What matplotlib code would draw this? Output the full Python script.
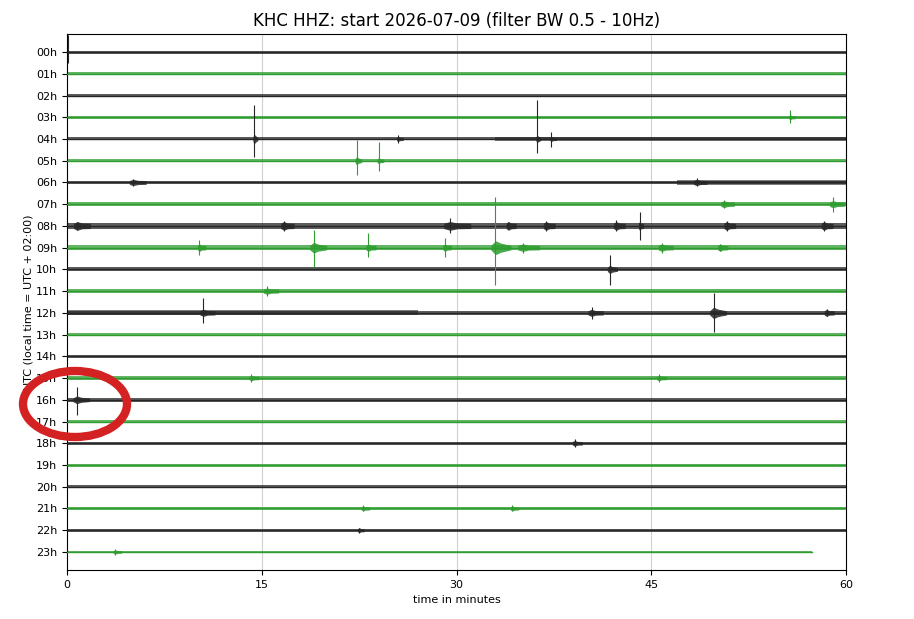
import matplotlib
matplotlib.use("Agg")
import matplotlib.pyplot as plt
from matplotlib.patches import Ellipse
import numpy as np

# ---------------- data ----------------
hour_labels = ["%02dh" % h for h in range(24)]
trace_colors = ["#262626", "#2e9c2e"]          # alternating black / green
trace_end_min = [60.0] * 23 + [57.4]            # last trace ends early

# background noise half-width per hour (amplitude, in reference pixels)
noise_amp = [1.5, 1.3, 1.5, 1.5, 1.5, 1.7, 1.9, 2.1, 2.6, 2.2, 1.9, 1.9,
             2.1, 1.7, 1.7, 1.6, 1.7, 1.6, 1.7, 1.5, 1.6, 1.5, 1.5, 1.3]

# louder noise segments: hour, start min, end min, half-width
loud_hour = [4, 6, 12]
loud_start = [33.0, 47.0, 0.0]
loud_end = [60.0, 60.0, 27.0]
loud_amp = [2.2, 2.3, 2.5]

# events: hour, minute, upward extent, downward extent, coda duration (min)
ev_hour = [0, 4, 4, 5, 5, 6, 8, 8, 8, 8, 8, 8, 8, 8, 8,
           9, 9, 9, 9, 9, 9, 9, 9, 10, 11, 12, 12, 12, 12,
           3, 4, 4, 6, 7, 7, 15, 15, 16, 18, 21, 21, 22, 23]
ev_min = [0.05, 14.4, 25.5, 22.3, 24.0, 5.1, 0.8, 16.7, 29.5, 34.0, 36.9, 42.3, 44.1, 50.8, 58.3,
          10.2, 19.0, 23.2, 29.1, 33.0, 35.1, 45.8, 50.3, 41.8, 15.4, 10.5, 40.4, 49.8, 58.5,
          55.7, 36.2, 37.3, 48.5, 50.6, 59.0, 14.2, 45.6, 0.75, 39.1, 22.8, 34.3, 22.5, 3.7]
ev_up = [17, 34, 4, 21, 19, 3.5, 4, 5, 8, 3.5, 5, 6, 14, 5, 5,
         8, 18, 15, 10, 51, 5, 5, 3.5, 14, 5, 15, 6, 20, 3.5,
         7, 39, 7, 4, 4, 7, 4, 4, 13, 4, 3, 3, 2.5, 3]
ev_down = [11, 18, 4, 14, 10, 3.5, 4, 5, 7, 3.5, 5, 5, 14, 5, 5,
           7, 19, 9, 9, 37, 5, 5, 3.5, 16, 5, 10, 6, 19, 3.5,
           6, 14, 8, 4, 4, 8, 4, 4, 15, 4, 3, 3, 2.5, 3]
ev_dur = [0.0, 0.3, 0.4, 0.4, 0.4, 1.0, 1.0, 0.8, 1.6, 0.6, 0.7, 0.7, 0.3, 0.7, 0.7,
          0.5, 1.0, 0.6, 0.5, 1.2, 1.3, 0.9, 0.6, 0.6, 0.9, 0.9, 0.9, 1.0, 0.6,
          0.4, 0.3, 0.4, 0.8, 0.8, 0.9, 0.6, 0.6, 1.0, 0.6, 0.5, 0.5, 0.4, 0.5]

AMP_SCALE = 21.74   # amplitude units per trace spacing

# ---------------- figure ----------------
fig = plt.figure(figsize=(9.14, 6.19), dpi=100)
ax = fig.add_axes([67 / 914, 1 - 570 / 619, (846 - 67) / 914, (570 - 34) / 619])

for xv in [15, 30, 45]:
    ax.axvline(xv, color="#d0d0d0", lw=0.8, zorder=0)

for h in range(24):
    col = trace_colors[h % 2]
    a = noise_amp[h] / AMP_SCALE
    x = np.array([0.0, trace_end_min[h]])
    ax.fill_between(x, h - a, h + a, color=col, lw=0, alpha=0.75, zorder=2)
    ax.plot(x, [h, h], color=col, lw=1.0, zorder=3)

for h, s, e, a in zip(loud_hour, loud_start, loud_end, loud_amp):
    col = trace_colors[h % 2]
    aa = a / AMP_SCALE
    ax.fill_between([s, e], h - aa, h + aa, color=col, lw=0, alpha=0.6, zorder=2)

for h, t, up, dn, d in zip(ev_hour, ev_min, ev_up, ev_down, ev_dur):
    col = trace_colors[h % 2]
    ax.vlines(t, h - up / AMP_SCALE, h + dn / AMP_SCALE, color=col, lw=0.8, zorder=4)
    if d > 0:
        base = noise_amp[h] / AMP_SCALE
        blob = min(max(0.3 * min(up, dn), noise_amp[h] * 1.7), 7.0) / AMP_SCALE
        xs = np.array([t - 0.3 * d, t, t + 0.35 * d, t + d])
        hw = np.array([base, blob, blob * 0.65, base])
        ax.fill_between(xs, h - hw, h + hw, color=col, lw=0, alpha=0.85, zorder=4)

ax.set_xlim(0, 60)
ax.set_ylim(23.83, -0.83)
ax.set_xticks([0, 15, 30, 45, 60])
ax.set_yticks(range(24))
ax.set_yticklabels(hour_labels)
ax.tick_params(labelsize=8)
ax.set_xlabel("time in minutes", fontsize=8)
ax.set_ylabel("UTC (local time = UTC + 02:00)", fontsize=8, labelpad=1.5)
ax.set_title("KHC HHZ: start 2026-07-09 (filter BW 0.5 - 10Hz)", fontsize=12)

# red annotation ellipse (figure overlay)
ell = Ellipse((75 / 914, 1 - 404 / 619), 104 / 914, 66 / 619,
              transform=fig.transFigure, fill=False, edgecolor="#d42222",
              lw=6, zorder=10)
fig.patches.append(ell)

fig.savefig("out.png", dpi=100)
